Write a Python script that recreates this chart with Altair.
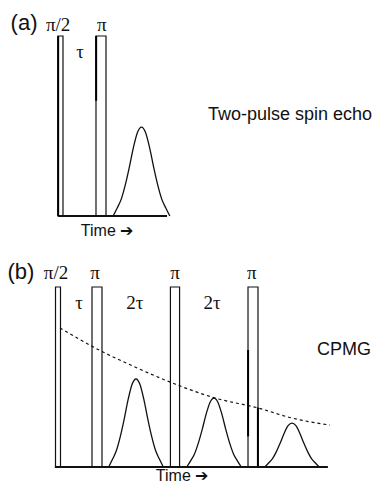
import altair as alt
import pandas as pd

# ---------------- panel (a): two-pulse spin echo (time in units of tau) ----------------
a_pulse_center = [0.0, 1.0]
a_pulse_width = [0.123, 0.247]
a_pulse_height = [1.0, 1.0]
a_echo_center = [2.0]
a_echo_peak = [0.494]
a_axis_span = [-0.06, 2.63]

# ---------------- panel (b): CPMG train ----------------
b_pulse_center = [0.0, 1.0, 3.0, 5.0]
b_pulse_width = [0.128, 0.256, 0.235, 0.256]
b_pulse_height = [1.0, 1.0, 1.0, 1.0]
b_echo_center = [2.0, 4.0, 6.0]
b_echo_peak = [0.489, 0.383, 0.244]
b_axis_span = [-0.08, 6.92]

# T2 decay envelope drawn dashed through the echo tops
decay_t = [0.05, 1.0, 2.03, 3.0, 4.03, 5.13, 6.0, 6.97]
decay_amp = [0.772, 0.656, 0.550, 0.461, 0.383, 0.328, 0.272, 0.233]

# echo line shape: offset from echo centre (tau) and fraction of peak height
echo_dt = [-0.7, -0.6, -0.5, -0.4, -0.3, -0.2, -0.1, 0.0,
           0.1, 0.2, 0.3, 0.4, 0.5, 0.6, 0.7]
echo_rel = [0.0, 0.09, 0.19, 0.35, 0.55, 0.77, 0.94, 1.0,
            0.94, 0.77, 0.55, 0.35, 0.19, 0.09, 0.0]

# darker pulse edges (t, from amplitude, to amplitude)
a_edge_t = [-0.058, 0.88]
a_edge_lo = [0.0, 0.64]
a_edge_hi = [1.0, 1.0]
b_edge_t = [4.874, 5.126]
b_edge_lo = [0.17, 0.0]
b_edge_hi = [0.65, 0.33]

# labels
a_serif_text = ["π/2", "π", "τ"]
a_serif_t = [-0.06, 1.02, 0.48]
a_serif_amp = [1.06, 1.06, 0.91]
a_sans_text = ["(a)", "Time ➔", "Two-pulse spin echo"]
a_sans_t = [-0.9, 1.15, 3.64]
a_sans_amp = [1.072, -0.083, 0.561]
a_sans_size = [22, 16, 18]
a_sans_align = ["center", "center", "left"]

b_serif_text = ["π/2", "π", "π", "π", "τ", "2τ", "2τ"]
b_serif_t = [-0.05, 0.95, 3.0, 4.97, 0.54, 1.97, 3.95]
b_serif_amp = [1.078, 1.078, 1.078, 1.078, 0.91, 0.91, 0.91]
b_sans_text = ["(b)", "CPMG", "Time ➔"]
b_sans_t = [-0.95, 6.64, 3.18]
b_sans_amp = [1.083, 0.65, -0.05]
b_sans_size = [22, 18, 16]
b_sans_align = ["center", "left", "center"]

SERIF = "Liberation Serif"
SANS = "Liberation Sans"


def panel(x_dom, y_dom, h, centers, widths, heights, echo_c, echo_p, span,
          edge_t, edge_lo, edge_hi, s_text, s_t, s_amp,
          n_text, n_t, n_amp, n_size, n_align, decay=None):
    xs = alt.Scale(domain=x_dom, nice=False, zero=False)
    ys = alt.Scale(domain=y_dom, nice=False, zero=False)
    X = lambda f: alt.X(f, type="quantitative", scale=xs, axis=None)
    Y = lambda f: alt.Y(f, type="quantitative", scale=ys, axis=None)

    pulses = pd.DataFrame({
        "t0": [c - w / 2 for c, w in zip(centers, widths)],
        "t1": [c + w / 2 for c, w in zip(centers, widths)],
        "a0": [0.0] * len(centers),
        "a1": heights,
    })
    rows = []
    for k, (c, p) in enumerate(zip(echo_c, echo_p)):
        for d, r in zip(echo_dt, echo_rel):
            rows.append({"echo": k, "t": c + d, "amp": p * r})
    echoes = pd.DataFrame(rows)
    base = pd.DataFrame({"t0": [span[0]], "t1": [span[1]], "a": [0.0]})
    edges = pd.DataFrame({"t": edge_t, "a0": edge_lo, "a1": edge_hi})
    serif = pd.DataFrame({"text": s_text, "t": s_t, "amp": s_amp})
    sans = pd.DataFrame({"text": n_text, "t": n_t, "amp": n_amp,
                         "size": n_size, "align": n_align})

    layers = [
        alt.Chart(pulses).mark_rect(fillOpacity=0, stroke="#111",
                                    strokeWidth=1.2).encode(
            x=X("t0"), x2="t1", y=Y("a0"), y2="a1"),
        alt.Chart(edges).mark_rule(color="#000", strokeWidth=2.0).encode(
            x=X("t"), y=Y("a0"), y2="a1"),
        alt.Chart(echoes).mark_line(color="#111", strokeWidth=1.3,
                                    interpolate="monotone").encode(
            x=X("t"), y=Y("amp"), detail="echo:N"),
        alt.Chart(base).mark_rule(color="#111", strokeWidth=1.8).encode(
            x=X("t0"), x2="t1", y=Y("a")),
        alt.Chart(serif).mark_text(font=SERIF, fontSize=19, color="#111",
                                   baseline="middle").encode(
            x=X("t"), y=Y("amp"), text="text"),
    ]
    for al in ["center", "left"]:
        sub = sans[sans["align"] == al]
        if len(sub):
            layers.append(alt.Chart(sub).mark_text(
                font=SANS, color="#111", align=al, baseline="middle").encode(
                x=X("t"), y=Y("amp"), text="text",
                size=alt.Size("size:Q", scale=None, legend=None)))
    if decay is not None:
        dd = pd.DataFrame({"t": decay[0], "amp": decay[1]})
        layers.insert(3, alt.Chart(dd).mark_line(
            color="#111", strokeWidth=1.2, strokeDash=[3, 3],
            interpolate="monotone").encode(x=X("t"), y=Y("amp")))
    return alt.layer(*layers).properties(width=377, height=h)


top = panel([-1.4938, 7.8148], [-0.161, 1.2], 245,
            a_pulse_center, a_pulse_width, a_pulse_height,
            a_echo_center, a_echo_peak, a_axis_span,
            a_edge_t, a_edge_lo, a_edge_hi,
            a_serif_text, a_serif_t, a_serif_amp,
            a_sans_text, a_sans_t, a_sans_amp, a_sans_size, a_sans_align)

bottom = panel([-1.4872, 8.1795], [-0.0889, 1.2333], 238,
               b_pulse_center, b_pulse_width, b_pulse_height,
               b_echo_center, b_echo_peak, b_axis_span,
               b_edge_t, b_edge_lo, b_edge_hi,
               b_serif_text, b_serif_t, b_serif_amp,
               b_sans_text, b_sans_t, b_sans_amp, b_sans_size, b_sans_align,
               decay=(decay_t, decay_amp))

chart = alt.vconcat(top, bottom, spacing=0, bounds="flush").properties(
    padding=0, background="white"
).configure_view(stroke=None)

chart.save("out.html", embed_options={"renderer": "svg", "actions": False})
